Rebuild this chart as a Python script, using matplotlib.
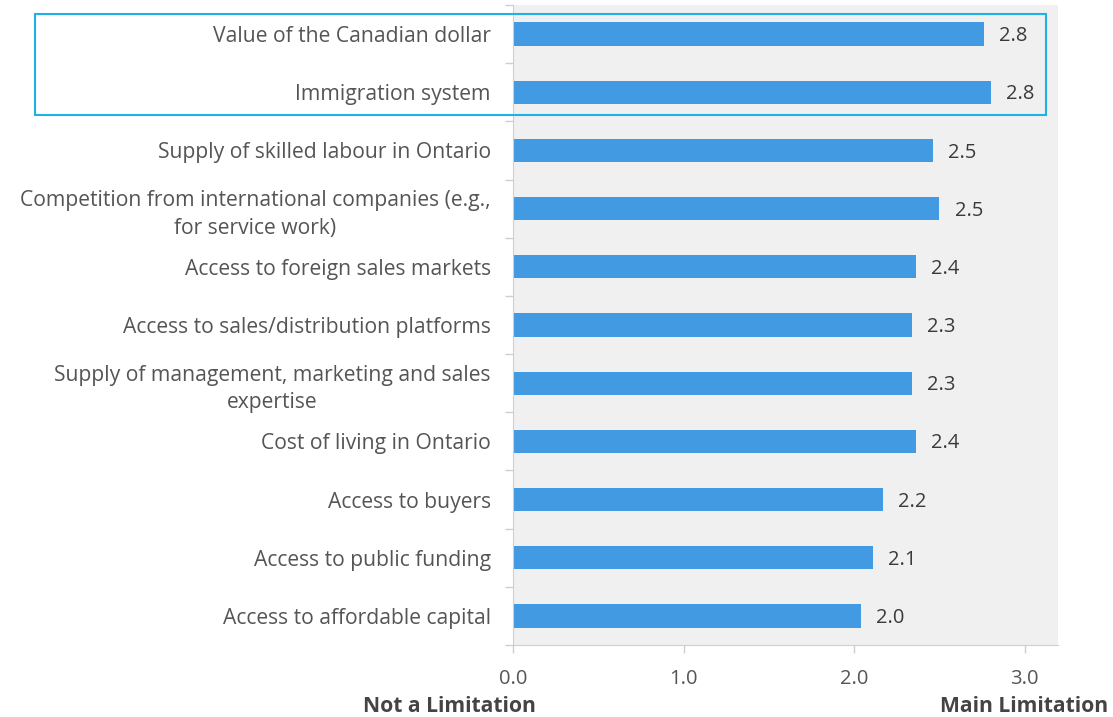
import matplotlib.pyplot as plt
from matplotlib.patches import Rectangle
import numpy as np

plt.rcParams["font.family"] = ["Open Sans", "DejaVu Sans"]

labels = [
    "Value of the Canadian dollar",
    "Immigration system",
    "Supply of skilled labour in Ontario",
    "Competition from international companies (e.g.,\nfor service work)",
    "Access to foreign sales markets",
    "Access to sales/distribution platforms",
    "Supply of management, marketing and sales\nexpertise",
    "Cost of living in Ontario",
    "Access to buyers",
    "Access to public funding",
    "Access to affordable capital",
]
scores = [2.76, 2.80, 2.46, 2.50, 2.36, 2.34, 2.34, 2.36, 2.17, 2.11, 2.04]
xticks = [0.0, 1.0, 2.0, 3.0]

BAR = "#429ae2"
GRID = "#cfcfcf"
TEXT = "#555555"

fig = plt.figure(figsize=(11.13, 7.17), dpi=100)
ax = fig.add_axes([513 / 1113, 1 - 645 / 717, 545 / 1113, 640 / 717])
ax.set_facecolor("#f0f0f0")

y = np.arange(len(labels))
ax.barh(y, scores, height=0.4, color=BAR, zorder=2)
for yi, v in zip(y, scores):
    ax.annotate(f"{v:.1f}", (v, yi), textcoords="offset points", xytext=(11, -1.5),
                ha="left", va="center", fontsize=14.5, color="#3a3a3a")

ax.set_xlim(0, 3.195)
ax.set_ylim(len(labels) - 0.5, -0.5)

ax.set_yticks(y)
ax.set_yticklabels(labels, fontsize=15.2, color=TEXT, linespacing=1.4)
for t in ax.get_yticklabels():
    t.set_multialignment("center")
ax.set_yticks(np.arange(len(labels) + 1) - 0.5, minor=True)
ax.tick_params(axis="y", which="major", length=0, pad=16)
ax.tick_params(axis="y", which="minor", length=6, color=GRID, width=1)

ax.set_xticks(xticks)
ax.set_xticklabels([f"{t:.1f}" for t in xticks], fontsize=14.5, color=TEXT)
ax.tick_params(axis="x", length=6, color=GRID, width=1, pad=11)

for side in ("top", "right"):
    ax.spines[side].set_visible(False)
ax.spines["left"].set_color(GRID)
ax.spines["bottom"].set_color(GRID)

fig.text(449 / 1113, 1 - 707 / 717, "Not a Limitation", ha="center", va="center",
         fontsize=15.2, fontweight="bold", color="#444444")
fig.text(1108 / 1113, 1 - 707 / 717, "Main Limitation", ha="right", va="center",
         fontsize=15.2, fontweight="bold", color="#444444")

# outline around the two top-ranked limitations
fig.patches.append(Rectangle((35 / 1113, 1 - 115 / 717), 1011 / 1113, 101 / 717,
                             transform=fig.transFigure, fill=False,
                             edgecolor="#1eb1e8", linewidth=1.5, zorder=5))

fig.savefig("out.png", dpi=100)
